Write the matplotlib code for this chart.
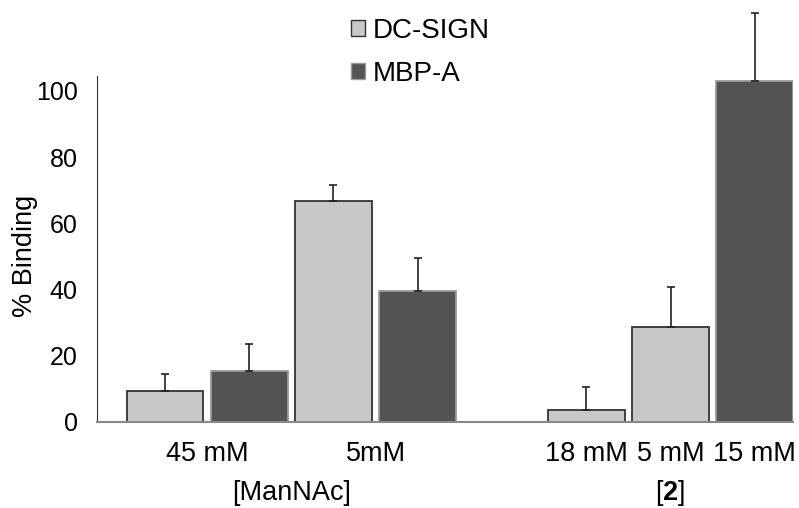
import numpy as np
import matplotlib
matplotlib.use('Agg')
import matplotlib.pyplot as plt
from matplotlib.patches import Patch
from matplotlib.transforms import blended_transform_factory

plt.rcParams['font.family'] = ['Liberation Sans', 'DejaVu Sans']
plt.rcParams['mathtext.fontset'] = 'custom'
plt.rcParams['mathtext.rm'] = 'Liberation Sans'
plt.rcParams['mathtext.bf'] = 'Liberation Sans:bold'

# data (bars in left-to-right order)
bar_series = ['DC-SIGN', 'MBP-A', 'DC-SIGN', 'MBP-A', 'DC-SIGN', 'DC-SIGN', 'MBP-A']
bar_values = [9.5, 15.5, 66.6, 39.7, 3.6, 28.6, 103.0]
bar_errors = [4.9, 8.1, 5.0, 9.8, 7.1, 12.2, 20.5]
conc_labels = ['45 mM', '5mM', '18 mM', '5 mM', '15 mM']
group_labels = ['[ManNAc]', '[$\\mathbf{2}$]']

colors = {'DC-SIGN': '#c8c8c8', 'MBP-A': '#535353'}
edges = {'DC-SIGN': '#333333', 'MBP-A': '#9a9a9a'}

# slot positions, one empty slot between the two groups
slots = np.array([0, 1, 2, 3, 5, 6, 7])
width = 0.91

fig = plt.figure(figsize=(7.99, 5.08), dpi=100)
ax = fig.add_axes([0.1214, 0.1693, 0.8711, 0.6811])

for x, s, v, e in zip(slots, bar_series, bar_values, bar_errors):
    ax.bar(x, v, width=width, color=colors[s], edgecolor=edges[s], linewidth=1.3, zorder=2)
    ax.errorbar(x, v, yerr=[[0], [e]], fmt='none', ecolor='#222222', elinewidth=1.2,
                capsize=3, capthick=1.2, clip_on=False, zorder=3)

ax.set_xlim(-0.807, 7.454)
ax.set_ylim(0, 104.5)
ax.set_yticks([0, 20, 40, 60, 80, 100])
ax.tick_params(axis='y', length=0, pad=14, labelsize=18)
ax.tick_params(axis='x', length=0, pad=14, labelsize=19.5)
ax.set_xticks([0.5, 2.5, 5, 6, 7])
ax.set_xticklabels(conc_labels)

trans = blended_transform_factory(ax.transData, ax.transAxes)
ax.text(1.5, -0.206, group_labels[0], transform=trans, ha='center', va='center', fontsize=19.5)
ax.text(6, -0.206, group_labels[1], transform=trans, ha='center', va='center', fontsize=19.5)

ax.set_ylabel('% Binding', fontsize=19.5)
ax.yaxis.set_label_coords(-0.085, 0.48)

for side in ['top', 'right']:
    ax.spines[side].set_visible(False)
ax.spines['left'].set_color('#333333')
ax.spines['bottom'].set_color('#888888')
ax.spines['bottom'].set_linewidth(1.5)

handles = [Patch(facecolor=colors[k], edgecolor=edges[k], label=k) for k in ['DC-SIGN', 'MBP-A']]
fig.legend(handles=handles, loc='upper left', bbox_to_anchor=(0.4165, 1.0), frameon=False,
           fontsize=20, handlelength=0.5, handleheight=0.5, handletextpad=0.3,
           labelspacing=0.6, borderaxespad=0.25)

fig.savefig('out.png', dpi=100)
